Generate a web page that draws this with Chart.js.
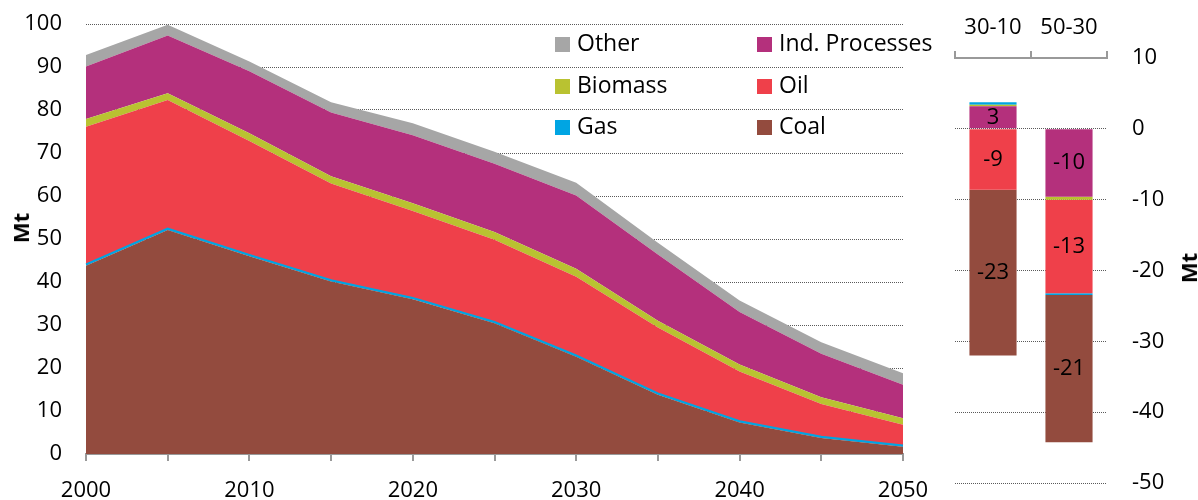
<!DOCTYPE html>
<html>
<head>
<meta charset="utf-8">
<script src="https://cdn.jsdelivr.net/npm/chart.js@4.4.1/dist/chart.umd.min.js"></script>
<style>
  body { margin: 0; background: #fff; font-family: 'Open Sans', sans-serif; }
  #wrap { position: relative; width: 1198px; height: 500px; overflow: hidden; }
  canvas { position: absolute; top: 0; }
  #areaChart { left: 0; }
  #barChart { left: 930px; }
  .leg { position: absolute; font-size: 23px; line-height: 23px; color: #000; white-space: nowrap; }
  .leg span { display: inline-block; width: 15px; height: 15px; margin-right: 7px; vertical-align: -1px; }
  .ytitle { position: absolute; font-size: 22px; font-weight: bold; transform: translate(-50%, -50%) rotate(-90deg); }
</style>
</head>
<body>
<div id="wrap">
  <canvas id="areaChart" width="930" height="500"></canvas>
  <canvas id="barChart" width="268" height="500"></canvas>
  <div class="ytitle" style="left:20px; top:228px;">Mt</div>
  <div class="ytitle" style="left:1188px; top:268px;">Mt</div>
  <div id="legend"></div>
</div>
<script>
// emissions by source, Mt (stacked from bottom)
const years = ['2000', '2005', '2010', '2015', '2020', '2025', '2030', '2035', '2040', '2045', '2050'];
const coal    = [43.8, 52.1, 46.0, 40.1, 36.0, 30.4, 22.6, 13.8, 7.3, 3.7, 1.7];
const gas     = [0.3, 0.3, 0.3, 0.3, 0.3, 0.3, 0.3, 0.3, 0.3, 0.3, 0.3];
const oil     = [32.0, 29.9, 26.5, 22.5, 20.2, 19.1, 18.3, 15.3, 11.6, 7.6, 4.8];
const biomass = [1.8, 1.6, 1.8, 1.7, 1.8, 1.8, 1.9, 1.6, 1.6, 1.6, 1.5];
const indProc = [12.2, 13.4, 14.4, 14.8, 15.8, 15.9, 17.0, 15.4, 12.2, 10.1, 7.8];
const other   = [2.7, 2.5, 2.3, 2.4, 2.8, 2.8, 3.0, 2.7, 2.7, 2.7, 2.7];

// changes between periods, Mt
const periods = ['30-10', '50-30'];
const indChg     = [3.2, -9.6];
const otherChg   = [0, 0];
const biomassChg = [0.2, -0.4];
const oilChg     = [-8.6, -13.2];
const gasChg     = [0.35, -0.25];
const coalChg    = [-23.4, -20.8];

const colors = {
  coal: '#934B3E', gas: '#00A5E3', oil: '#EF404A',
  biomass: '#B9C231', ind: '#B4307C', other: '#A6A6A6'
};

Chart.defaults.font.family = "'Open Sans', sans-serif";
Chart.defaults.font.size = 22;
Chart.defaults.color = '#000';

// legend (two columns, three rows)
const legendItems = [
  ['Other', colors.other], ['Ind. Processes', colors.ind],
  ['Biomass', colors.biomass], ['Oil', colors.oil],
  ['Gas', colors.gas], ['Coal', colors.coal]
];
const legend = document.getElementById('legend');
legendItems.forEach((it, i) => {
  const d = document.createElement('div');
  d.className = 'leg';
  d.style.left = (i % 2 === 0 ? 555 : 757) + 'px';
  d.style.top = (31 + Math.floor(i / 2) * 41.5) + 'px';
  d.innerHTML = '<span style="background:' + it[1] + '"></span>' + it[0];
  legend.appendChild(d);
});

const noLine = 'rgba(0,0,0,0)';
function area(label, data, color, fill) {
  return { label: label, data: data, backgroundColor: color, borderColor: noLine, borderWidth: 0, fill: fill };
}

// keep tick padding / edge labels from pushing the plot area in
function noVPad(s, width) {
  s.width = width;
  s.paddingTop = 0;
  s.paddingBottom = 0;
}
function noHPad(s, height) {
  s.height = height;
  s.paddingLeft = 0;
  s.paddingRight = 0;
}

// dotted grey gridlines
const dotted = { drawTicks: false, color: '#5a5a5a', lineWidth: 1, borderDash: [1, 1] };
const dottedBorder = { display: false, dash: [1, 1] };

new Chart(document.getElementById('areaChart'), {
  type: 'line',
  data: {
    labels: years,
    datasets: [
      area('Coal', coal, colors.coal, 'origin'),
      { label: 'Gas', data: gas, backgroundColor: colors.gas, borderColor: colors.gas, borderWidth: 2, fill: '-1' },
      area('Oil', oil, colors.oil, '-1'),
      area('Biomass', biomass, colors.biomass, '-1'),
      area('Ind. Processes', indProc, colors.ind, '-1'),
      area('Other', other, colors.other, '-1')
    ]
  },
  options: {
    responsive: false,
    animation: false,
    layout: { padding: { top: 24, right: 27, left: 0, bottom: 0 } },
    elements: { point: { radius: 0 }, line: { tension: 0 } },
    plugins: { legend: { display: false }, tooltip: { enabled: false } },
    scales: {
      x: {
        offset: false,
        grid: { drawOnChartArea: false, tickLength: 7, color: '#999', lineWidth: 2 },
        border: { color: '#999', width: 2 },
        ticks: {
          autoSkip: false, maxRotation: 0, padding: 17,
          callback: function (v, i) { return i % 2 === 0 ? this.getLabelForValue(v) : ''; }
        },
        afterFit: s => noHPad(s, 46)
      },
      y: {
        stacked: true, min: 0, max: 100,
        ticks: { stepSize: 10, padding: 24 },
        grid: dotted,
        border: dottedBorder,
        afterFit: s => noVPad(s, 86)
      }
    }
  }
});

// value labels in the middle of the big bar segments
const segmentLabels = {
  id: 'segmentLabels',
  afterDatasetsDraw(chart) {
    const ctx = chart.ctx;
    ctx.save();
    ctx.font = "22px 'Open Sans', sans-serif";
    ctx.fillStyle = '#000';
    ctx.textAlign = 'center';
    ctx.textBaseline = 'middle';
    chart.data.datasets.forEach((ds, di) => {
      chart.getDatasetMeta(di).data.forEach((bar, i) => {
        const v = ds.data[i];
        if (Math.abs(v) < 1) return;
        ctx.fillText(String(Math.round(v)), bar.x, (bar.y + bar.base) / 2);
      });
    });
    ctx.restore();
  }
};

new Chart(document.getElementById('barChart'), {
  type: 'bar',
  data: {
    labels: periods,
    datasets: [
      { label: 'Ind. Processes', data: indChg, backgroundColor: colors.ind },
      { label: 'Other', data: otherChg, backgroundColor: colors.other },
      { label: 'Biomass', data: biomassChg, backgroundColor: colors.biomass },
      { label: 'Oil', data: oilChg, backgroundColor: colors.oil },
      { label: 'Gas', data: gasChg, backgroundColor: colors.gas },
      { label: 'Coal', data: coalChg, backgroundColor: colors.coal }
    ]
  },
  options: {
    responsive: false,
    animation: false,
    layout: { padding: { left: 25, right: 0, top: 0, bottom: 17 } },
    datasets: { bar: { categoryPercentage: 1, barPercentage: 0.62 } },
    plugins: { legend: { display: false }, tooltip: { enabled: false } },
    scales: {
      x: {
        position: 'top', stacked: true,
        grid: { drawOnChartArea: false, tickLength: 7, color: '#999', lineWidth: 2, offset: true },
        border: { color: '#999', width: 2 },
        ticks: { padding: 10, maxRotation: 0 },
        afterFit: s => noHPad(s, 58)
      },
      y: {
        position: 'right', stacked: true, min: -50, max: 10,
        ticks: { stepSize: 10, padding: 25 },
        grid: dotted,
        border: dottedBorder,
        afterFit: s => noVPad(s, 91)
      }
    }
  },
  plugins: [segmentLabels]
});
</script>
</body>
</html>
